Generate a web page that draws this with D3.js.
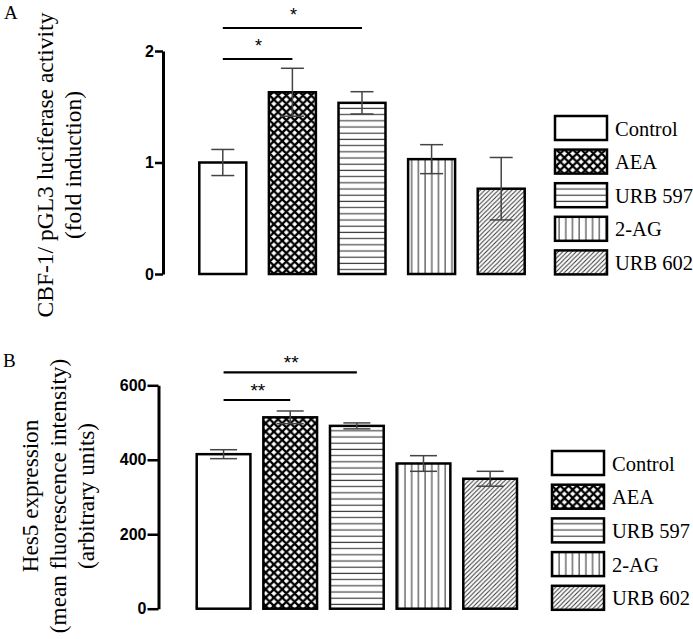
<!DOCTYPE html>
<html><head><meta charset="utf-8">
<script src="https://cdn.jsdelivr.net/npm/d3@7"></script>
<style>body{margin:0;background:#fff}svg{display:block}</style>
</head><body>
<script>
// ---- data ----
const categories = ["Control", "AEA", "URB 597", "2-AG", "URB 602"];
const patternsFor = ["none", "cross", "hlines", "vlines", "diag"];
const panelA_values = [1.00, 1.63, 1.535, 1.03, 0.765];
const panelA_sem    = [0.117, 0.215, 0.10, 0.13, 0.28];
const panelA_ticks  = [0, 1, 2];
const panelA_sig    = [[0, 1, "*"], [0, 2, "*"]];
const panelB_values = [415, 514, 491, 390, 349];
const panelB_sem    = [12, 17, 8, 21, 20];
const panelB_ticks  = [0, 200, 400, 600];
const panelB_sig    = [[0, 1, "**"], [0, 2, "**"]];

const W = 693, H = 639;
const svg = d3.select("body").append("svg").attr("width", W).attr("height", H);
const defs = svg.append("defs");

// hatch patterns
const pc = defs.append("pattern").attr("id", "cross").attr("patternUnits", "userSpaceOnUse")
  .attr("width", 8.3).attr("height", 8.3);
pc.append("rect").attr("width", 8.3).attr("height", 8.3).attr("fill", "#fff");
pc.append("path").attr("d", "M-2,2L2,-2M0,8.3L8.3,0M6.3,10.3L10.3,6.3M-2,6.3L2,10.3M0,0L8.3,8.3M6.3,-2L10.3,2")
  .attr("stroke", "#000").attr("stroke-width", 2.3).attr("fill", "none");

const ph = defs.append("pattern").attr("id", "hlines").attr("patternUnits", "userSpaceOnUse")
  .attr("width", 6).attr("height", 6.2);
ph.append("rect").attr("width", 6).attr("height", 6.2).attr("fill", "#fff");
ph.append("line").attr("x1", 0).attr("x2", 6).attr("y1", 3).attr("y2", 3)
  .attr("stroke", "#444").attr("stroke-width", 1.2);

const pv = defs.append("pattern").attr("id", "vlines").attr("patternUnits", "userSpaceOnUse")
  .attr("width", 6.7).attr("height", 6);
pv.append("rect").attr("width", 6.7).attr("height", 6).attr("fill", "#fff");
pv.append("line").attr("x1", 3).attr("x2", 3).attr("y1", 0).attr("y2", 6)
  .attr("stroke", "#555").attr("stroke-width", 1.3);

const pd = defs.append("pattern").attr("id", "diag").attr("patternUnits", "userSpaceOnUse")
  .attr("width", 4.5).attr("height", 4.5);
pd.append("rect").attr("width", 4.5).attr("height", 4.5).attr("fill", "#fff");
pd.append("path").attr("d", "M-1,1L1,-1M0,4.5L4.5,0M3.5,5.5L5.5,3.5")
  .attr("stroke", "#333").attr("stroke-width", 1).attr("fill", "none");

const fillOf = p => p === "none" ? "#fff" : `url(#${p})`;
const serif = "'Liberation Serif','Times New Roman',serif";
const sans = "'Liberation Sans',Arial,sans-serif";

function panel(cfg) {
  const g = svg.append("g");
  const x = d3.scaleBand().domain(categories).range(cfg.xr).paddingInner(cfg.pad).paddingOuter(0);
  const y = d3.scaleLinear().domain(cfg.domain).range(cfg.yr);

  // axis
  const ax = g.append("g").attr("transform", `translate(${cfg.axisX},0)`)
    .call(d3.axisLeft(y).tickValues(cfg.ticks).tickFormat(d3.format("d"))
      .tickSize(cfg.tickLen).tickSizeOuter(0).tickPadding(1));
  ax.select(".domain").attr("stroke-width", 3).attr("stroke", "#000");
  ax.selectAll(".tick line").attr("stroke-width", 2.5).attr("stroke", "#000");
  ax.selectAll(".tick text").attr("font-family", sans).attr("font-weight", "bold")
    .attr("font-size", 16).attr("fill", "#000");

  // bars
  g.selectAll("rect.bar").data(cfg.values).join("rect").attr("class", "bar")
    .attr("x", (d, i) => x(categories[i]))
    .attr("y", d => y(d))
    .attr("width", x.bandwidth())
    .attr("height", d => y(0) - y(d))
    .attr("fill", (d, i) => fillOf(patternsFor[i]))
    .attr("stroke", "#000").attr("stroke-width", 2.5);

  // error bars
  const eg = g.append("g").attr("stroke", "#444").attr("stroke-width", 1.5);
  cfg.values.forEach((v, i) => {
    const cx = x(categories[i]) + x.bandwidth() / 2;
    const hi = y(v + cfg.sem[i]), lo = y(v - cfg.sem[i]);
    eg.append("line").attr("x1", cx).attr("x2", cx).attr("y1", hi).attr("y2", lo);
    eg.append("line").attr("x1", cx - cfg.cap).attr("x2", cx + cfg.cap).attr("y1", hi).attr("y2", hi);
    eg.append("line").attr("x1", cx - cfg.cap).attr("x2", cx + cfg.cap).attr("y1", lo).attr("y2", lo);
  });

  // significance
  cfg.sig.forEach((s, k) => {
    const x1 = x(categories[s[0]]) + x.bandwidth() / 2;
    const x2 = x(categories[s[1]]) + x.bandwidth() / 2;
    const ly = cfg.sigY[k];
    g.append("line").attr("x1", x1).attr("x2", x2).attr("y1", ly).attr("y2", ly)
      .attr("stroke", "#000").attr("stroke-width", 2.2);
    g.append("text").attr("x", (x1 + x2) / 2 + 1).attr("y", ly + cfg.starDy)
      .attr("text-anchor", "middle").attr("font-family", sans).attr("font-size", cfg.starSize)
      .text(s[2]);
  });

  // y titles
  cfg.titles.forEach((t, k) => {
    g.append("text")
      .attr("transform", `translate(${cfg.titleX[k]},${cfg.titleY}) rotate(-90)`)
      .attr("text-anchor", "middle").attr("font-family", serif).attr("font-size", cfg.titleSize)
      .text(t);
  });

  // panel letter
  g.append("text").attr("x", cfg.letterPos[0]).attr("y", cfg.letterPos[1])
    .attr("font-family", serif).attr("font-size", 19).text(cfg.letter);

  // legend
  const lg = g.append("g");
  categories.forEach((c, i) => {
    const ty = cfg.legY + i * cfg.legStep;
    lg.append("rect").attr("x", cfg.legX).attr("y", ty).attr("width", 52).attr("height", 24)
      .attr("fill", fillOf(patternsFor[i])).attr("stroke", "#000").attr("stroke-width", 2.5);
    lg.append("text").attr("x", cfg.legX + 60).attr("y", ty + 19.5)
      .attr("font-family", serif).attr("font-size", 20.5).text(c);
  });
}

panel({
  xr: [199.3, 524.7], pad: 0.325, domain: [0, 2], yr: [274, 51], axisX: 163, tickLen: 8,
  ticks: panelA_ticks, values: panelA_values, sem: panelA_sem, cap: 11.5,
  sig: panelA_sig, sigY: [59, 28], starDy: -7, starSize: 18,
  titles: ["CBF-1/ pGL3 luciferase activity", "(fold induction)"], titleX: [53, 81], titleY: 165,
  titleSize: 23.5, letter: "A", letterPos: [4, 19], legX: 555, legY: 116, legStep: 33.6
});
panel({
  xr: [196.7, 517], pad: 0.194, domain: [0, 600], yr: [608.7, 385.3], axisX: 158.5, tickLen: 11,
  ticks: panelB_ticks, values: panelB_values, sem: panelB_sem, cap: 13.5,
  sig: panelB_sig, sigY: [400, 372.3], starDy: -3, starSize: 19,
  titles: ["Hes5 expression", "(mean fluorescence intensity)", "(arbitrary units)"],
  titleX: [38, 66, 94], titleY: 496, titleSize: 23.2,
  letter: "B", letterPos: [3, 367], legX: 552, legY: 451, legStep: 33.7
});
</script>
</body></html>
